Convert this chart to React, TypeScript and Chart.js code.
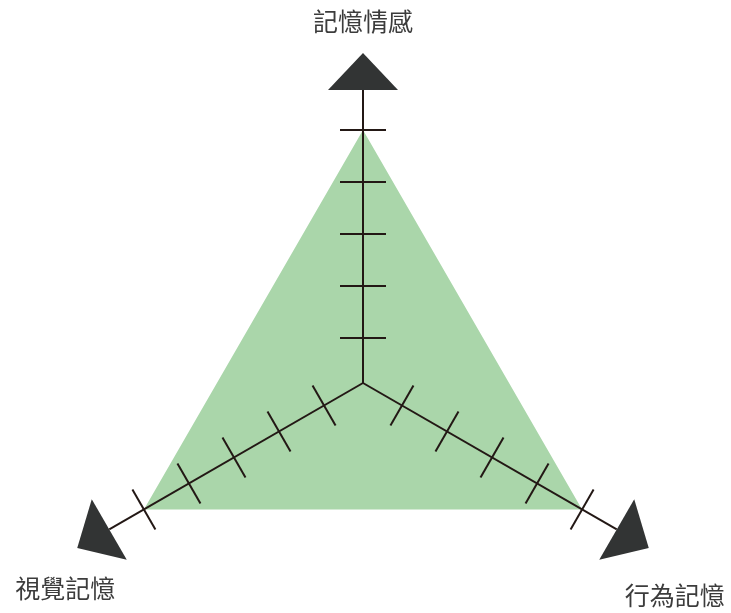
import React, { useEffect, useRef } from "react";
import { Chart, registerables } from "chart.js";

Chart.register(...registerables);

const axisLabels: string[] = ["記憶情感", "行為記憶", "視覺記憶"];
const seriesValues: number[] = [5, 5, 5];
const tickValues: number[] = [1, 2, 3, 4, 5];
const scaleMin = 0.135;
const unitPx = 52;

const LINE = "#231815";
const ARROW = "#323434";
const FILL = "#aad6aa";
const TEXT = "#3c3c3c";

// label offsets relative to arrow tip (x, y)
const labelOffsets: [number, number][] = [
  [0, -32],
  [26, 48],
  [-12, 41],
];

const axesPlugin = {
  id: "axesPlugin",
  afterDatasetsDraw(chart: any) {
    const scale = chart.scales.r;
    const ctx = chart.ctx as CanvasRenderingContext2D;
    const n = axisLabels.length;
    const rMax = scale.getDistanceFromCenterForValue(tickValues[tickValues.length - 1]);
    const lineEnd = rMax + 40;
    const tipR = rMax + 77;
    const halfBase = 35;
    const tickHalf = 23;
    ctx.save();
    for (let i = 0; i < n; i++) {
      const end = scale.getPointPosition(i, lineEnd);
      const tip = scale.getPointPosition(i, tipR);
      const ang = scale.getIndexAngle(i) - Math.PI / 2;
      const px = -Math.sin(ang);
      const py = Math.cos(ang);
      // axis line
      ctx.strokeStyle = LINE;
      ctx.lineWidth = 2;
      ctx.lineCap = "butt";
      ctx.beginPath();
      ctx.moveTo(scale.xCenter, scale.yCenter);
      ctx.lineTo(end.x, end.y);
      ctx.stroke();
      // ticks
      for (const v of tickValues) {
        const p = scale.getPointPosition(i, scale.getDistanceFromCenterForValue(v));
        ctx.beginPath();
        ctx.moveTo(p.x - px * tickHalf, p.y - py * tickHalf);
        ctx.lineTo(p.x + px * tickHalf, p.y + py * tickHalf);
        ctx.stroke();
      }
      // arrow head
      ctx.fillStyle = ARROW;
      ctx.beginPath();
      ctx.moveTo(tip.x, tip.y);
      ctx.lineTo(end.x + px * halfBase, end.y + py * halfBase);
      ctx.lineTo(end.x - px * halfBase, end.y - py * halfBase);
      ctx.closePath();
      ctx.fill();
      // label
      ctx.fillStyle = TEXT;
      ctx.font = '25px "Noto Sans CJK TC", "Noto Sans CJK SC", sans-serif';
      ctx.textAlign = "center";
      ctx.textBaseline = "middle";
      ctx.fillText(axisLabels[i], tip.x + labelOffsets[i][0], tip.y + labelOffsets[i][1]);
    }
    ctx.restore();
  },
};

export default function App() {
  const ref = useRef<HTMLCanvasElement | null>(null);
  useEffect(() => {
    if (!ref.current) return;
    const W = 726;
    const drawing = Math.floor(W / 2);
    const chart = new Chart(ref.current, {
      type: "radar",
      data: {
        labels: axisLabels,
        datasets: [
          {
            data: seriesValues,
            backgroundColor: FILL,
            borderWidth: 0,
            borderColor: "rgba(0,0,0,0)",
            pointRadius: 0,
            fill: true,
            clip: false as any,
          },
        ],
      },
      options: {
        responsive: false,
        animation: false,
        events: [],
        plugins: { legend: { display: false }, tooltip: { enabled: false } },
        layout: { padding: 0 },
        scales: {
          r: {
            min: scaleMin,
            max: scaleMin + drawing / unitPx,
            grid: { display: false },
            angleLines: { display: false },
            pointLabels: { display: false },
            ticks: { display: false },
          },
        },
      },
      plugins: [axesPlugin],
    });
    return () => chart.destroy();
  }, []);
  return (
    <div style={{ position: "fixed", left: 0, top: 0, width: 726, height: 766 }}>
      <canvas ref={ref} width={726} height={766} style={{ display: "block" }} />
    </div>
  );
}
